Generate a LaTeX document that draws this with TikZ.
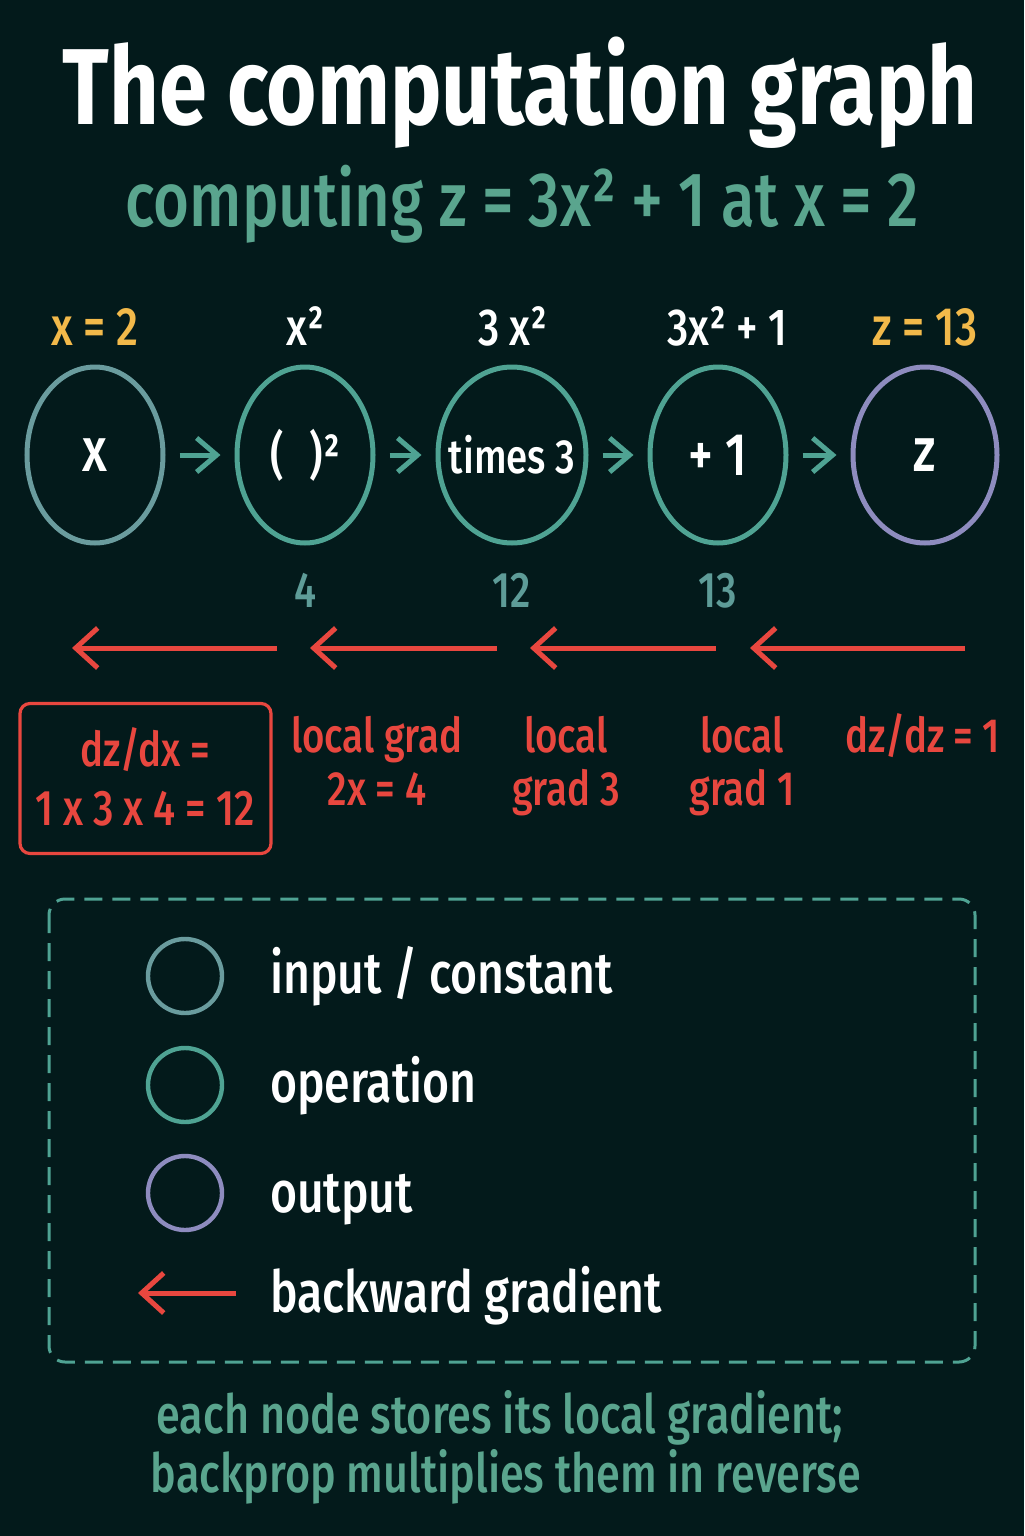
\documentclass[tikz,border=0pt]{standalone}
\usepackage{fontspec}
\setmainfont{Fira Sans}[UprightFont={* Medium}, BoldFont={* Bold}, FakeStretch=0.8]
\usetikzlibrary{arrows.meta, positioning, calc, shapes.geometric}
\definecolor{bgdark}{HTML}{031A1B}
\definecolor{opteal}{HTML}{4FA393}
\definecolor{subteal}{HTML}{5AA58E}
\definecolor{numteal}{HTML}{5E9C98}
\definecolor{inmix}{HTML}{6A9C9E}
\definecolor{outlilac}{HTML}{8E8CBF}
\definecolor{gradred}{HTML}{E8473F}
\definecolor{valyellow}{HTML}{F2B94A}
\newcommand{\fsz}[1]{\fontsize{#1}{1.2\dimexpr#1pt\relax}\selectfont}
\tikzset{
  x=0.5pt, y=-0.5pt,
  gnode/.style={ellipse, draw, line width=2.5pt, minimum width=68pt, minimum height=88pt, inner sep=0pt, text=white, font=\fsz{26},
    execute at begin node=\hbox to 0pt\bgroup\hss, execute at end node=\hss\egroup},
  innode/.style={gnode, draw=inmix},
  opnode/.style={gnode, draw=opteal},
  outnode/.style={gnode, draw=outlilac, minimum width=72pt},
  toplab/.style={anchor=base, text=white, font=\fsz{26}},
  vallab/.style={toplab, text=valyellow, font=\fsz{27}},
  numlab/.style={anchor=base, text=numteal, font=\fsz{25}},
  gradlab/.style={anchor=base, text=gradred, font=\fsz{24}, align=center},
  fwd/.style={-{Straight Barb[length=10pt,width=17pt,line width=2.5pt]}, line width=2.5pt, opteal, shorten <=7pt, shorten >=7pt},
  bwd/.style={-{Straight Barb[length=11pt,width=20pt,line width=2.5pt]}, line width=2.5pt, gradred},
  legcirc/.style={circle, draw, line width=2.2pt, minimum size=37pt, inner sep=0pt},
  legtext/.style={anchor=base west, text=white, font=\fsz{29}}
}
\begin{document}
\begin{tikzpicture}
  \fill[bgdark] (0,0) rectangle (1024,1536);
  \useasboundingbox (0,0) rectangle (1024,1536);

  % title
  \node[anchor=base, text=white, font=\bfseries\fsz{54}] (title) at (520,125) {The computation graph};
  \node[anchor=base, text=subteal, font=\fsz{38.5}] (subtitle) at (522,226) {computing z = 3x² + 1 at x = 2};

  % forward graph
  \node[innode, font=\fsz{31}] (nx) at (95,455) {x};
  \node[opnode] (nsq) at (305,455) {(\enspace)²};
  \node[opnode, minimum width=74pt, font=\fsz{24}] (ntimes) at (512,455) {times 3};
  \node[opnode, font=\fsz{30}] (nplus) at (718,455) {+ 1};
  \node[outnode, font=\fsz{31}] (nz) at (925,455) {z};

  \node[vallab] (lx) at (95,345) {x = 2};
  \node[toplab] (lsq) at (305,345) {x²};
  \node[toplab] (ltimes) at (513,345) {3 x²};
  \node[toplab] (lplus) at (727,345) {3x² + 1};
  \node[vallab] (lz) at (925,345) {z = 13};

  \draw[fwd] (nx) -- (nsq);
  \draw[fwd] (nsq) -- (ntimes);
  \draw[fwd] (ntimes) -- (nplus);
  \draw[fwd] (nplus) -- (nz);

  \node[numlab] (vsq) at (305,607) {4};
  \node[numlab] (vtimes) at (512,607) {12};
  \node[numlab] (vplus) at (718,607) {13};

  % backward pass
  \coordinate (b4s) at (965,648); \coordinate (b4e) at (750,648);
  \coordinate (b3s) at (716,648); \coordinate (b3e) at (530,648);
  \coordinate (b2s) at (497,648); \coordinate (b2e) at (310,648);
  \coordinate (b1s) at (277,648); \coordinate (b1e) at (72,648);
  \foreach \i in {1,...,4}
    \draw[bwd] (b\i s) -- (b\i e);

  \node[draw=gradred, line width=1.6pt, rounded corners=5pt, minimum width=125.5pt, minimum height=75pt] (dxbox) at (145.5,778.5) {};
  \node[gradlab] (dxtop) at (145,766) {dz/dx =};
  \node[gradlab, font=\fsz{25}] (dxbot) at (145,825) {1 x 3 x 4 = 12};
  \node[gradlab] (gsq1) at (377,752) {local grad};
  \node[gradlab] (gsq2) at (377,805) {2x = 4};
  \node[gradlab] (gt1) at (566,752) {local};
  \node[gradlab] (gt2) at (566,805) {grad 3};
  \node[gradlab] (gp1) at (742,752) {local};
  \node[gradlab] (gp2) at (742,805) {grad 1};
  \node[gradlab] (gz) at (923,752) {dz/dz = 1};

  % legend
  \draw[opteal, line width=1.5pt, dash pattern=on 9pt off 5pt, rounded corners=8pt] (49,899) rectangle (975,1362);
  \node[legcirc, draw=inmix] (kin) at (185,976) {};
  \node[legcirc, draw=opteal] (kop) at (185,1085) {};
  \node[legcirc, draw=outlilac] (kout) at (185,1193) {};
  \coordinate (kbs) at (236,1293); \coordinate (kbe) at (138,1293);
  \draw[bwd] (kbs) -- (kbe);
  \node[legtext] (tin) at (263,993) {input / constant};
  \node[legtext] (top) at (263,1102) {operation};
  \node[legtext] (tout) at (263,1212) {output};
  \node[legtext] (tbw) at (263,1312) {backward gradient};

  % footer
  \node[anchor=base, text=subteal, font=\fsz{27}] (foot1) at (500,1433) {each node stores its local gradient;};
  \node[anchor=base, text=subteal, font=\fsz{27}] (foot2) at (506,1492) {backprop multiplies them in reverse};
\end{tikzpicture}
\end{document}
